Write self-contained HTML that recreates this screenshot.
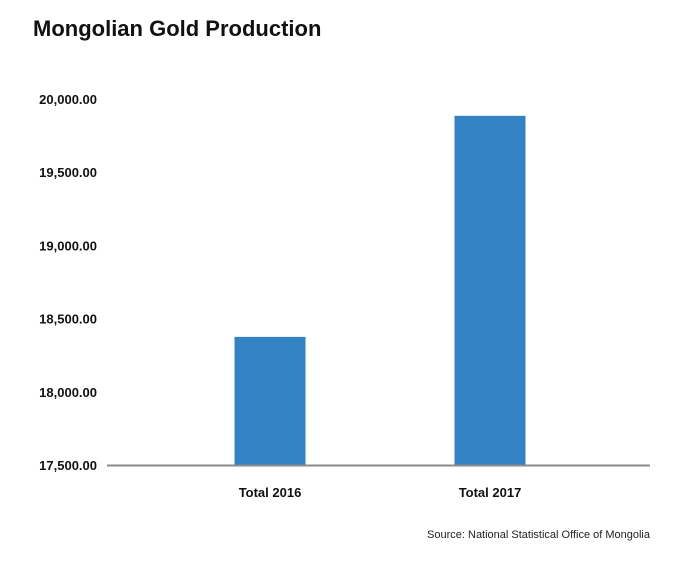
<!DOCTYPE html>
<html><head><meta charset="utf-8"><style>
body{margin:0;background:#fff;width:684px;height:576px;overflow:hidden;font-family:"Liberation Sans",sans-serif}
</style></head><body>
<svg width="684" height="576">
<text x="33" y="36" font-size="22" font-weight="bold" fill="#111">Mongolian Gold Production</text>
<g id="yticks"></g><g id="bars"></g><g id="xlabels"></g>
<line x1="107" y1="465.5" x2="650" y2="465.5" stroke="#8a8a8a" stroke-width="2"/>
<text x="650" y="538" font-size="11" text-anchor="end" fill="#222">Source: National Statistical Office of Mongolia</text>
</svg>
<script>
const categories=["Total 2016","Total 2017"];
const values=[18375,19885];
const ticks=[17500,18000,18500,19000,19500,20000];
const tickLabels=["17,500.00","18,000.00","18,500.00","19,000.00","19,500.00","20,000.00"];
const NS="http://www.w3.org/2000/svg";
const y=v=>465-(v-17500)/2500*366;
const xc=i=>270+i*220;
const yt=document.getElementById('yticks');
ticks.forEach((t,i)=>{const e=document.createElementNS(NS,'text');
e.setAttribute('x',97);e.setAttribute('y',y(t)+5);e.setAttribute('text-anchor','end');
e.setAttribute('font-size','13');e.setAttribute('font-weight','bold');e.setAttribute('fill','#111');
e.textContent=tickLabels[i];


yt.appendChild(e);});
const bg=document.getElementById('bars'),xl=document.getElementById('xlabels');
values.forEach((v,i)=>{const r=document.createElementNS(NS,'rect');
r.setAttribute('x',xc(i)-35.5);r.setAttribute('width',71);r.setAttribute('y',y(v));r.setAttribute('height',465-y(v));r.setAttribute('fill','#3282c4');


bg.appendChild(r);
const t=document.createElementNS(NS,'text');
t.setAttribute('x',xc(i));t.setAttribute('y',497);t.setAttribute('text-anchor','middle');t.setAttribute('font-size','13');t.setAttribute('font-weight','bold');t.setAttribute('fill','#111');
t.textContent=categories[i];


xl.appendChild(t);});
</script>
</body></html>
